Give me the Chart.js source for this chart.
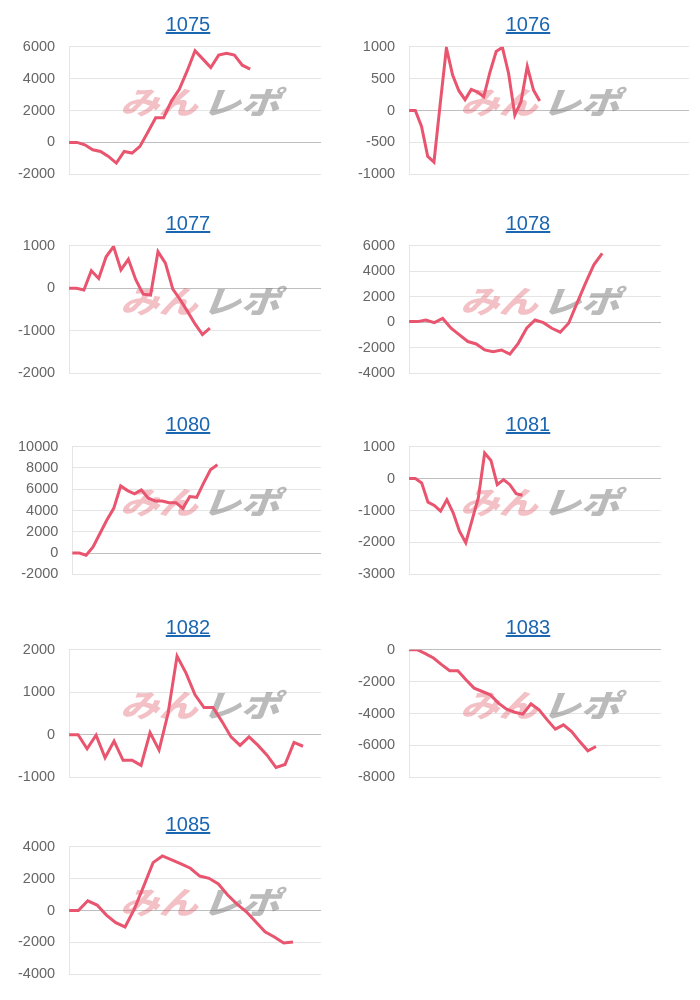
<!DOCTYPE html>
<html>
<head>
<meta charset="utf-8">
<script src="https://cdn.jsdelivr.net/npm/chart.js@4/dist/chart.umd.min.js"></script>
<style>
  body { margin: 0; background: #fff; font-family: "Liberation Sans", Arial, sans-serif; }
  .title { position: absolute; width: 340px; height: 24px; line-height: 24px; text-align: center; font-size: 20px; z-index: 2; }
  .title a { color: #1b66b1; text-decoration: underline; }
  .box { position: absolute; width: 354px; height: 173px; }
</style>
</head>
<body>
<div id="wrap"></div>
<script>
// machine numbers (chart titles)
const titles = ["1075", "1076", "1077", "1078", "1080", "1081", "1082", "1083", "1085"];

// difference curves, one per machine
const diff1075 = [0, 0, -150, -460, -570, -880, -1300, -570, -670, -250, 630, 1540, 1540, 2590, 3330, 4480, 5750, 5220, 4690, 5470, 5580, 5470, 4840, 4590];
const diff1076 = [0, 0, -250, -720, -810, 100, 980, 555, 310, 170, 330, 290, 215, 600, 925, 990, 580, -70, 140, 690, 320, 150];
const diff1077 = [0, 0, -40, 410, 230, 740, 980, 430, 680, 200, -140, -160, 860, 590, -20, -270, -550, -840, -1090, -940];
const diff1078 = [50, 50, 180, -30, 300, -470, -990, -1510, -1700, -2170, -2300, -2170, -2500, -1650, -470, 180, -30, -470, -780, -80, 1500, 3050, 4500, 5400];
const diff1080 = [0, 0, -200, 580, 1840, 3100, 4200, 6310, 5870, 5560, 5940, 5150, 4900, 4900, 4740, 4740, 4200, 5310, 5240, 6570, 7830, 8300];
const diff1081 = [0, 0, -135, -740, -840, -1020, -660, -1070, -1650, -2010, -1300, -600, 800, 570, -190, -30, -190, -470, -520];
const diff1082 = [0, 0, -330, -10, -540, -150, -600, -600, -720, 50, -360, 500, 1850, 1450, 940, 640, 640, 310, -50, -250, -50, -250, -480, -770, -700, -180, -270];
const diff1083 = [0, 0, -250, -520, -940, -1320, -1320, -1890, -2410, -2620, -2830, -3350, -3730, -3920, -4040, -3400, -3770, -4400, -4980, -4710, -5130, -5760, -6340, -6070];
const diff1085 = [0, 0, 610, 340, -290, -760, -1030, 100, 1530, 3000, 3420, 3170, 2920, 2650, 2160, 2020, 1660, 970, 400, -80, -710, -1340, -1660, -2040, -1970];

const series = [diff1075, diff1076, diff1077, diff1078, diff1080, diff1081, diff1082, diff1083, diff1085];

// x slots on each chart (blank category labels)
const xSlots = [33, 46, 35, 31, 37, 41, 29, 32, 28];

// y axis ranges
const yMin = [-2000, -1000, -2000, -4000, -2000, -3000, -1000, -8000, -4000];
const yMax = [6000, 1000, 1000, 6000, 10000, 1000, 2000, 0, 4000];
const yStep = [2000, 500, 1000, 2000, 2000, 1000, 1000, 2000, 2000];

const rowTops = [0, 199, 400, 603, 800];
const fontFamily = "'Liberation Sans', Arial, sans-serif";

// みんレポ logo behind the line
const watermark = {
  id: "watermark",
  beforeDatasetsDraw(chart) {
    const c = chart.ctx;
    c.save();
    c.translate(200, 78);
    c.transform(1.02, 0, -0.32, 0.82, 0, 0);
    c.font = "900 38px 'Noto Sans CJK JP'";
    c.textBaseline = "middle";
    c.textAlign = "right";
    c.fillStyle = "rgba(220,80,95,0.36)";
    c.fillText("みん", -2, 0);
    c.textAlign = "left";
    c.fillStyle = "rgba(120,120,120,0.5)";
    c.fillText("レポ", 2, 0);
    c.restore();
  }
};

const wrap = document.getElementById("wrap");

titles.forEach((t, i) => {
  const row = Math.floor(i / 2);
  const left = i % 2 === 0 ? 18 : 358;
  const top = rowTops[row];

  const title = document.createElement("div");
  title.className = "title";
  title.style.left = left + "px";
  title.style.top = (top + 12) + "px";
  title.innerHTML = '<a href="#">' + t + "</a>";
  wrap.appendChild(title);

  const box = document.createElement("div");
  box.className = "box";
  box.style.left = (left - 14) + "px";
  box.style.top = (top + 24) + "px";
  const canvas = document.createElement("canvas");
  box.appendChild(canvas);
  wrap.appendChild(box);

  new Chart(canvas, {
    type: "line",
    data: {
      labels: Array(xSlots[i]).fill(""),
      datasets: [
        {
          data: series[i],
          borderColor: "#e9546f",
          borderWidth: 3,
          pointRadius: 0,
          fill: false,
          tension: 0,
        },
      ],
    },
    options: {
      animation: false,
      responsive: true,
      maintainAspectRatio: false,
      layout: { padding: { left: 0, top: 0, bottom: 0, right: t === "1076" ? 9 : 37 } },
      plugins: { legend: { display: false }, tooltip: { enabled: false } },
      scales: {
        x: { display: false },
        y: {
          min: yMin[i],
          max: yMax[i],
          ticks: {
            stepSize: yStep[i],
            color: "#666",
            padding: 14,
            font: { size: 14.5, family: fontFamily },
            callback: (v) => String(v),
          },
          grid: {
            drawTicks: false,
            color: (ctx) => (ctx.tick && ctx.tick.value === 0 ? "rgba(0,0,0,0.25)" : "rgba(0,0,0,0.1)"),
          },
          border: { color: "rgba(0,0,0,0.1)" },
        },
      },
    },
    plugins: [watermark],
  });
});
</script>
</body>
</html>
